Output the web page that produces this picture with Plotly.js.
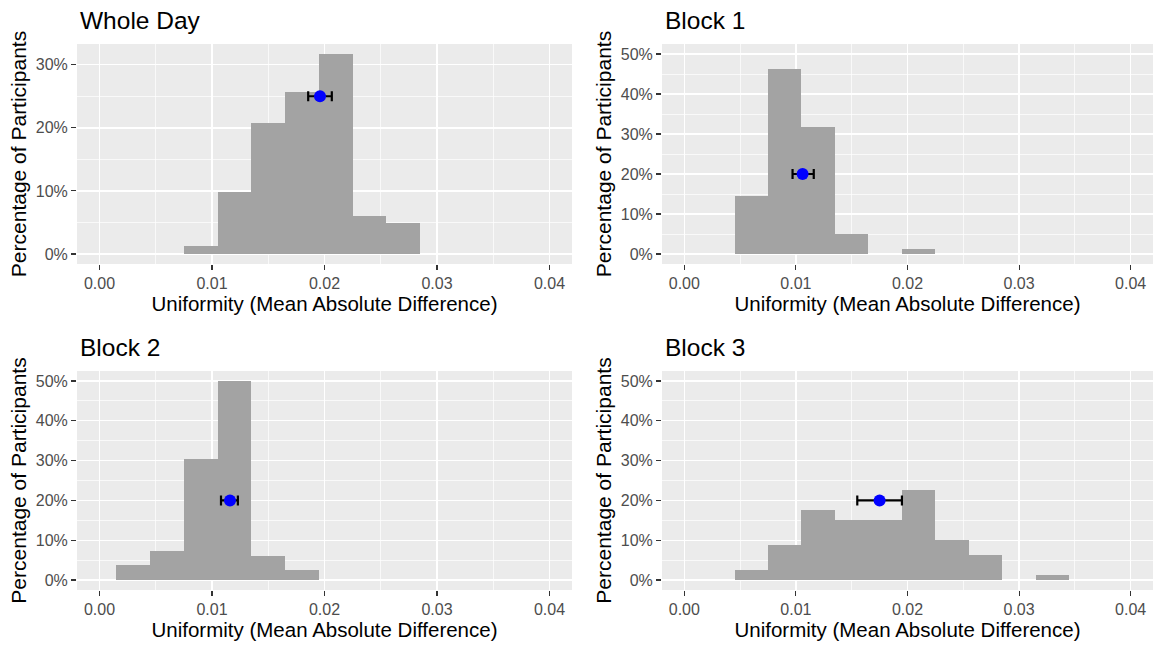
<!DOCTYPE html>
<html>
<head>
<meta charset="utf-8">
<script src="https://cdn.plot.ly/plotly-3.0.1.min.js"></script>
<style>html,body{margin:0;padding:0;background:#fff;}#chart{width:1156px;height:646px;}</style>
</head>
<body>
<div id="chart"></div>
<script>
// Panel titles
const panelTitles = ["Whole Day", "Block 1", "Block 2", "Block 3"];

// Histogram bins (centres, width 0.003) and percentage of participants
const wholeDayBins = [0.009, 0.012, 0.015, 0.018, 0.021, 0.024, 0.027];
const wholeDayPct  = [1.2, 9.8, 20.7, 25.6, 31.7, 6.1, 4.9];

const block1Bins = [0.006, 0.009, 0.012, 0.015, 0.021];
const block1Pct  = [14.6, 46.3, 31.7, 4.9, 1.2];

const block2Bins = [0.003, 0.006, 0.009, 0.012, 0.015, 0.018];
const block2Pct  = [3.7, 7.3, 30.5, 50.0, 6.1, 2.4];

const block3Bins = [0.006, 0.009, 0.012, 0.015, 0.018, 0.021, 0.024, 0.027, 0.033];
const block3Pct  = [2.5, 8.75, 17.5, 15.0, 15.0, 22.5, 10.0, 6.25, 1.25];

// Mean with interval (x), plotted at a fixed height (y)
const meanX   = [0.0196, 0.0106, 0.0116, 0.0175];
const meanLow = [0.01855, 0.0097, 0.0108, 0.0155];
const meanHigh= [0.02065, 0.0116, 0.0123, 0.0195];
const meanY   = [25, 20, 20, 20];

// Tick labels
const xTicks = [0, 0.01, 0.02, 0.03, 0.04];
const xTickLabels = ["0.00", "0.01", "0.02", "0.03", "0.04"];
const yTicksWhole = [0, 10, 20, 30];
const yTickLabelsWhole = ["0%", "10%", "20%", "30%"];
const yTicksBlock = [0, 10, 20, 30, 40, 50];
const yTickLabelsBlock = ["0%", "10%", "20%", "30%", "40%", "50%"];

const binWidth = 0.003;
const allBins = [wholeDayBins, block1Bins, block2Bins, block3Bins];
const allPct  = [wholeDayPct, block1Pct, block2Pct, block3Pct];

const FONT = 'Liberation Sans, Arial, Helvetica, sans-serif';

const traces = [];
for (let i = 0; i < 4; i++) {
  const xa = i === 0 ? 'x' : 'x' + (i + 1);
  const ya = i === 0 ? 'y' : 'y' + (i + 1);
  traces.push({
    type: 'bar', x: allBins[i], y: allPct[i], width: binWidth,
    xaxis: xa, yaxis: ya,
    marker: {color: '#a3a3a3', line: {width: 0}},
    hoverinfo: 'x+y'
  });
  traces.push({
    type: 'scatter', mode: 'markers', x: [meanX[i]], y: [meanY[i]],
    xaxis: xa, yaxis: ya,
    marker: {color: '#0000ff', size: 12},
    error_x: {type: 'data', symmetric: false,
      array: [meanHigh[i] - meanX[i]], arrayminus: [meanX[i] - meanLow[i]],
      color: '#000000', thickness: 2.2, width: 5}
  });
}

const W = 1156, H = 646;
const dx = [[77 / W, 572 / W], [662 / W, 1153 / W]];
const dy = [[1 - 264 / H, 1 - 44 / H], [1 - 590 / H, 1 - 371 / H]];

function xAxis(col, row, anchor) {
  return {
    domain: dx[col], anchor: anchor, range: [-0.002, 0.042],
    tickmode: 'array', tickvals: xTicks, ticktext: xTickLabels,
    ticks: 'outside', ticklen: 5, tickwidth: 1.1, tickcolor: '#333333',
    tickfont: {family: FONT, size: 16, color: '#4d4d4d'},
    showgrid: true, gridcolor: '#ffffff', gridwidth: 1.4,
    minor: {showgrid: true, gridcolor: '#ffffff', gridwidth: 0.7, dtick: 0.01, tick0: 0.005},
    zeroline: false, showline: false, automargin: false,
    title: {text: 'Uniformity (Mean Absolute Difference)', standoff: 5,
      font: {family: FONT, size: 20.5, color: '#000000'}}
  };
}
function yAxis(col, row, anchor, ticks, labels, range) {
  return {
    domain: dy[row], anchor: anchor, range: range,
    tickmode: 'array', tickvals: ticks, ticktext: labels,
    ticks: 'outside', ticklen: 5, tickwidth: 1.1, tickcolor: '#333333',
    tickfont: {family: FONT, size: 16, color: '#4d4d4d'},
    showgrid: true, gridcolor: '#ffffff', gridwidth: 1.4,
    minor: {showgrid: true, gridcolor: '#ffffff', gridwidth: 0.7, dtick: 10, tick0: 5},
    zeroline: false, showline: false, automargin: false,
    title: {text: 'Percentage of Participants', standoff: 3,
      font: {family: FONT, size: 21, color: '#000000'}}
  };
}

const layout = {
  width: W, height: H,
  margin: {l: 0, r: 0, t: 0, b: 0},
  paper_bgcolor: '#ffffff', plot_bgcolor: '#ebebeb',
  showlegend: false, bargap: 0,
  xaxis: xAxis(0, 0, 'y'),
  xaxis2: xAxis(1, 0, 'y2'),
  xaxis3: xAxis(0, 1, 'y3'),
  xaxis4: xAxis(1, 1, 'y4'),
  yaxis: yAxis(0, 0, 'x', yTicksWhole, yTickLabelsWhole, [-1.585, 33.285]),
  yaxis2: yAxis(1, 0, 'x2', yTicksBlock, yTickLabelsBlock, [-2.5, 52.5]),
  yaxis3: yAxis(0, 1, 'x3', yTicksBlock, yTickLabelsBlock, [-2.5, 52.5]),
  yaxis4: yAxis(1, 1, 'x4', yTicksBlock, yTickLabelsBlock, [-2.5, 52.5]),
  annotations: panelTitles.map((t, i) => ({
    text: t, showarrow: false, xref: 'paper', yref: 'paper',
    x: dx[i % 2][0] + 1 / W, y: dy[Math.floor(i / 2)][1] + 8 / H,
    xanchor: 'left', yanchor: 'bottom',
    font: {family: FONT, size: 24.5, color: '#000000'}
  }))
};

Plotly.newPlot('chart', traces, layout, {displayModeBar: false, staticPlot: true});
</script>
</body>
</html>
